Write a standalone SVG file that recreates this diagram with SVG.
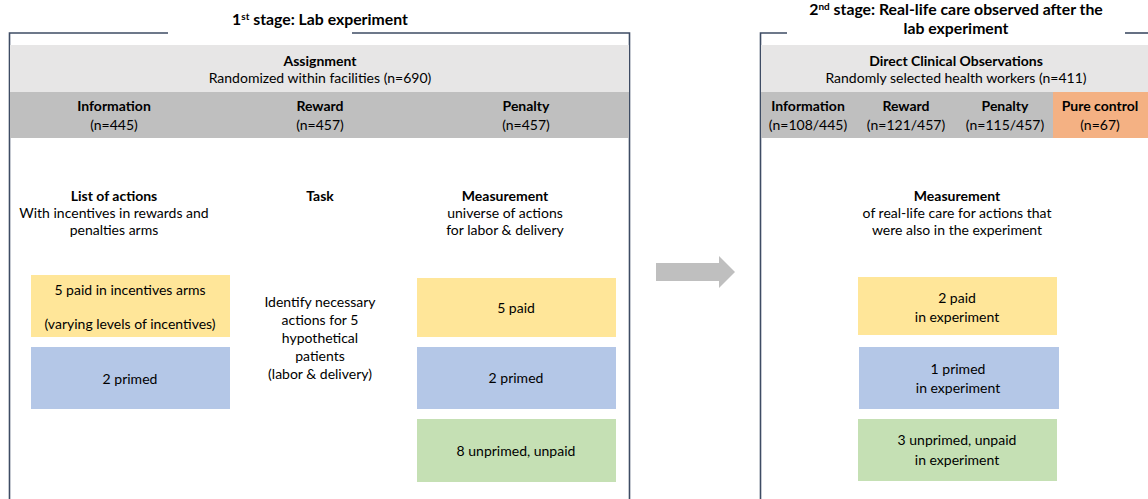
<svg xmlns="http://www.w3.org/2000/svg" width="1148" height="499" viewBox="0 0 1148 499">
  <style>
    text { font-family: Lato, "Liberation Sans", sans-serif; font-size: 14px; fill: #000; text-anchor: middle; }
    .b { font-weight: bold; }
    .title { font-weight: bold; font-size: 15.8px; }
    .frame { fill: none; stroke: #3E4C64; stroke-width: 1.6; }
    .band1 { fill: #E7E6E6; }
    .band2 { fill: #BFBFBF; }
    .ctrl { fill: #F4B183; }
    .paid { fill: #FFE699; }
    .primed { fill: #B4C7E7; }
    .unpaid { fill: #C5E0B4; }
  </style>

  <!-- Stage 1: lab experiment -->
  <g id="stage1-frame">
    <polyline class="frame" points="168,33 9.5,33 9.5,499"/>
    <polyline class="frame" points="352,33 629.5,33 629.5,499"/>
    <text class="title" x="320" y="25">1<tspan font-size="10" dy="-5">st</tspan><tspan dy="5"> stage: Lab experiment</tspan></text>
  </g>

  <g id="stage1-assignment">
    <rect class="band1" x="10" y="45" width="619" height="47"/>
    <text class="b" x="320" y="66">Assignment</text>
    <text x="320" y="83">Randomized within facilities (n=690)</text>
  </g>

  <g id="stage1-arms">
    <rect class="band2" x="10" y="92" width="619" height="46"/>
    <text class="b" x="114" y="111">Information</text>
    <text x="114" y="130">(n=445)</text>
    <text class="b" x="320" y="111">Reward</text>
    <text x="320" y="130">(n=457)</text>
    <text class="b" x="526" y="111">Penalty</text>
    <text x="526" y="130">(n=457)</text>
  </g>

  <g id="list-of-actions">
    <text class="b" x="114" y="201">List of actions</text>
    <text x="114" y="218">With incentives in rewards and</text>
    <text x="114" y="235">penalties arms</text>
  </g>

  <g id="task">
    <text class="b" x="320" y="201">Task</text>
    <text x="320" y="307">Identify necessary</text>
    <text x="320" y="325">actions for 5</text>
    <text x="320" y="343">hypothetical</text>
    <text x="320" y="361">patients</text>
    <text x="320" y="379">(labor &amp; delivery)</text>
  </g>

  <g id="measurement-lab">
    <text class="b" x="505" y="201">Measurement</text>
    <text x="505" y="218">universe of actions</text>
    <text x="505" y="235">for labor &amp; delivery</text>
  </g>

  <g id="list-paid">
    <rect class="paid" x="31" y="275" width="199" height="62"/>
    <text x="130" y="295">5 paid in incentives arms</text>
    <text x="130" y="329">(varying levels of incentives)</text>
  </g>
  <g id="list-primed">
    <rect class="primed" x="31" y="347" width="199" height="62"/>
    <text x="130" y="384">2 primed</text>
  </g>

  <g id="lab-paid">
    <rect class="paid" x="417" y="278" width="199" height="59"/>
    <text x="516" y="313">5 paid</text>
  </g>
  <g id="lab-primed">
    <rect class="primed" x="417" y="347" width="199" height="62"/>
    <text x="516" y="383">2 primed</text>
  </g>
  <g id="lab-unprimed">
    <rect class="unpaid" x="417" y="419" width="199" height="63"/>
    <text x="516" y="456">8 unprimed, unpaid</text>
  </g>

  <!-- Stage 2: real-life care -->
  <g id="stage2-frame">
    <polyline class="frame" points="787,33 760.5,33 760.5,499"/>
    <line class="frame" x1="1125" y1="33" x2="1148" y2="33"/>
    <text class="title" x="956" y="14.5">2<tspan font-size="10" dy="-4.5">nd</tspan><tspan dy="4.5"> stage: Real-life care observed after the</tspan></text>
    <text class="title" x="956" y="33.5">lab experiment</text>
  </g>

  <g id="stage2-observations">
    <rect class="band1" x="761" y="45" width="387" height="47"/>
    <text class="b" x="956" y="66">Direct Clinical Observations</text>
    <text x="956" y="83">Randomly selected health workers (n=411)</text>
  </g>

  <g id="stage2-arms">
    <rect class="band2" x="761" y="92" width="292" height="46"/>
    <rect class="ctrl" x="1053" y="92" width="95" height="46"/>
    <text class="b" x="808" y="111">Information</text>
    <text x="808" y="130">(n=108/445)</text>
    <text class="b" x="906" y="111">Reward</text>
    <text x="906" y="130">(n=121/457)</text>
    <text class="b" x="1005" y="111">Penalty</text>
    <text x="1005" y="130">(n=115/457)</text>
    <text class="b" x="1100" y="111">Pure control</text>
    <text x="1100" y="130">(n=67)</text>
  </g>

  <g id="measurement-real">
    <text class="b" x="957" y="201">Measurement</text>
    <text x="957" y="218">of real-life care for actions that</text>
    <text x="957" y="235">were also in the experiment</text>
  </g>

  <g id="real-paid">
    <rect class="paid" x="858" y="277" width="199" height="58"/>
    <text x="957" y="303">2 paid</text>
    <text x="957" y="322">in experiment</text>
  </g>
  <g id="real-primed">
    <rect class="primed" x="859" y="347" width="200" height="62"/>
    <text x="958" y="374">1 primed</text>
    <text x="958" y="393">in experiment</text>
  </g>
  <g id="real-unprimed">
    <rect class="unpaid" x="858" y="419" width="199" height="62"/>
    <text x="957" y="445">3 unprimed, unpaid</text>
    <text x="957" y="465">in experiment</text>
  </g>

  <!-- Transition from stage 1 to stage 2 -->
  <g id="connectors">
    <polygon fill="#BFBFBF" points="656,263 719,263 719,256 735,272 719,288 719,281 656,281"/>
  </g>
</svg>
